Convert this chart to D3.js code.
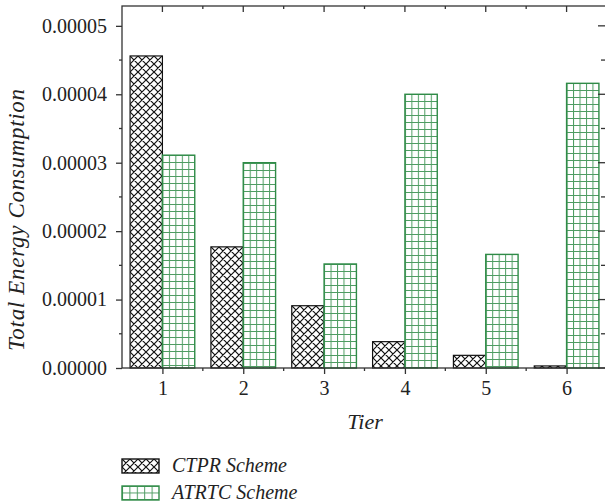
<!DOCTYPE html>
<html>
<head>
<meta charset="utf-8">
<script src="https://cdn.jsdelivr.net/npm/d3@7"></script>
<style>
  html, body { margin: 0; padding: 0; background: #fff; }
  svg { display: block; }
  text { font-family: "Liberation Serif", "Times New Roman", serif; fill: #222; }
</style>
</head>
<body>
<svg id="chart" width="605" height="504"></svg>
<script>
// Energy consumption per tier for the two schemes
const tiers = [1, 2, 3, 4, 5, 6];
const ctprValues = [4.56e-5, 1.77e-5, 0.91e-5, 0.385e-5, 0.185e-5, 0.03e-5];
const atrtcValues = [3.11e-5, 3.00e-5, 1.52e-5, 4.00e-5, 1.66e-5, 4.16e-5];
const yTickValues = [0, 1e-5, 2e-5, 3e-5, 4e-5, 5e-5];
const yTickLabels = ["0.00000", "0.00001", "0.00002", "0.00003", "0.00004", "0.00005"];
const seriesNames = ["CTPR Scheme", "ATRTC Scheme"];

const svg = d3.select("#chart");
const plotL = 122, plotR = 607, plotT = 6, plotB = 368;
const green = "#2f8b47";
const axisColor = "#333";

const x = d3.scaleLinear().domain([0.5, 6.5]).range([plotL, plotR]);
const y = d3.scaleLinear().domain([0, 5.29e-5]).range([plotB, plotT]);
const barW = x(1.4) - x(1);

const defs = svg.append("defs");

// cross-hatch tile
function addHatch(id, ox, oy) {
  const p = defs.append("pattern").attr("id", id)
    .attr("patternUnits", "userSpaceOnUse")
    .attr("x", Math.round(ox)).attr("y", Math.round(oy)).attr("width", 8).attr("height", 8);
  p.append("rect").attr("width", 8).attr("height", 8).attr("fill", "#fff");
  const paths = "M0,0L8,8M-2,6L2,10M6,-2L10,2M8,0L0,8M-2,2L2,-2M6,10L10,6";
  p.append("path").attr("d", paths).attr("stroke", "#111").attr("stroke-width", 1.2).attr("fill", "none");
}
// square grid tile
function addGrid(id, ox, oy, w, h) {
  const p = defs.append("pattern").attr("id", id)
    .attr("patternUnits", "userSpaceOnUse")
    .attr("x", ox).attr("y", Math.round(oy)).attr("width", w).attr("height", h);
  p.append("rect").attr("width", w).attr("height", h).attr("fill", "#fff");
  p.append("path").attr("d", `M0,0V${h}M0,0H${w}`)
    .attr("stroke", green).attr("stroke-width", 2).attr("fill", "none").attr("stroke-opacity", 0.85);
}

const ctprData = tiers.map((t, i) => ({ t, v: ctprValues[i], i }));
const atrtcData = tiers.map((t, i) => ({ t, v: atrtcValues[i], i }));

ctprData.forEach(d => addHatch("hatch" + d.i, x(d.t) - barW, y(d.v)));
atrtcData.forEach(d => addGrid("grid" + d.i, x(d.t), y(d.v), barW / 5, 7));

svg.append("g").selectAll("rect").data(ctprData).join("rect")
  .attr("x", d => x(d.t) - barW)
  .attr("y", d => y(d.v))
  .attr("width", barW)
  .attr("height", d => plotB - y(d.v))
  .attr("fill", d => `url(#hatch${d.i})`)
  .attr("stroke", "#111").attr("stroke-width", 1.2);

svg.append("g").selectAll("rect").data(atrtcData).join("rect")
  .attr("x", d => x(d.t))
  .attr("y", d => y(d.v))
  .attr("width", barW)
  .attr("height", d => plotB - y(d.v))
  .attr("fill", d => `url(#grid${d.i})`)
  .attr("stroke", green).attr("stroke-width", 1.4);

// frame
svg.append("rect").attr("x", plotL).attr("y", plotT)
  .attr("width", plotR - plotL).attr("height", plotB - plotT)
  .attr("fill", "none").attr("stroke", axisColor).attr("stroke-width", 1.3);

const minorX = d3.range(1.5, 6.5, 1);
const minorY = [0.5e-5, 1.5e-5, 2.5e-5, 3.5e-5, 4.5e-5];

// bottom axis: major ticks outward
const xAxis = d3.axisBottom(x).tickValues(tiers).tickSize(6).tickPadding(7).tickFormat(d3.format("d"));
const gx = svg.append("g").attr("transform", `translate(0,${plotB})`).call(xAxis);
gx.select(".domain").remove();
gx.selectAll(".tick line").attr("stroke", axisColor).attr("stroke-width", 1.3);
gx.selectAll(".tick text").attr("font-size", 20).attr("fill", "#222").attr("dy", "0.71em");
gx.append("g").selectAll("line").data(minorX).join("line")
  .attr("x1", d => x(d)).attr("x2", d => x(d)).attr("y1", 0).attr("y2", 3)
  .attr("stroke", axisColor).attr("stroke-width", 1.3);

// top axis: ticks inward
const gt = svg.append("g");
gt.selectAll("line.maj").data(tiers).join("line").attr("class", "maj")
  .attr("x1", d => x(d)).attr("x2", d => x(d)).attr("y1", plotT).attr("y2", plotT + 6)
  .attr("stroke", axisColor).attr("stroke-width", 1.3);
gt.selectAll("line.min").data(minorX).join("line").attr("class", "min")
  .attr("x1", d => x(d)).attr("x2", d => x(d)).attr("y1", plotT).attr("y2", plotT + 3)
  .attr("stroke", axisColor).attr("stroke-width", 1.3);

// left axis: ticks outward
const yAxis = d3.axisLeft(y).tickValues(yTickValues).tickSize(6).tickPadding(9)
  .tickFormat((d, i) => yTickLabels[i]);
const gy = svg.append("g").attr("transform", `translate(${plotL},0)`).call(yAxis);
gy.select(".domain").remove();
gy.selectAll(".tick line").attr("stroke", axisColor).attr("stroke-width", 1.3);
gy.selectAll(".tick text").attr("font-size", 20).attr("fill", "#222");
gy.append("g").selectAll("line").data(minorY).join("line")
  .attr("x1", -3).attr("x2", 0).attr("y1", d => y(d)).attr("y2", d => y(d))
  .attr("stroke", axisColor).attr("stroke-width", 1.3);

// right axis: ticks inward
const rx = 603;
const gr = svg.append("g");
gr.selectAll("line.maj").data(yTickValues).join("line").attr("class", "maj")
  .attr("x1", rx - 5).attr("x2", 605).attr("y1", d => y(d)).attr("y2", d => y(d))
  .attr("stroke", axisColor).attr("stroke-width", 1.3);
gr.selectAll("line.min").data(minorY).join("line").attr("class", "min")
  .attr("x1", rx - 2).attr("x2", 605).attr("y1", d => y(d)).attr("y2", d => y(d))
  .attr("stroke", axisColor).attr("stroke-width", 1.3);

// axis titles
svg.append("text").attr("x", 365).attr("y", 429)
  .attr("text-anchor", "middle").attr("font-size", 22).attr("font-style", "italic")
  .text("Tier");
svg.append("text")
  .attr("transform", "translate(24,220) rotate(-90)")
  .attr("text-anchor", "middle").attr("font-size", 23).attr("font-style", "italic")
  .attr("textLength", 262).attr("lengthAdjust", "spacing")
  .text("Total Energy Consumption");

// legend
addHatch("hatchLegend", 122, 459);
addGrid("gridLegend", 122, 486, 37 / 5, 6.5);
const legend = svg.append("g");
const legendRows = [
  { name: seriesNames[0], y: 459, fill: "url(#hatchLegend)", stroke: "#111" },
  { name: seriesNames[1], y: 486, fill: "url(#gridLegend)", stroke: green }
];
legend.selectAll("rect").data(legendRows).join("rect")
  .attr("x", 122).attr("y", d => d.y).attr("width", 37).attr("height", 14)
  .attr("fill", d => d.fill).attr("stroke", d => d.stroke).attr("stroke-width", 1.4);
legend.selectAll("text").data(legendRows).join("text")
  .attr("x", 172).attr("y", d => d.y + 13)
  .attr("font-size", 20).attr("font-style", "italic")
  .text(d => d.name);
</script>
</body>
</html>
